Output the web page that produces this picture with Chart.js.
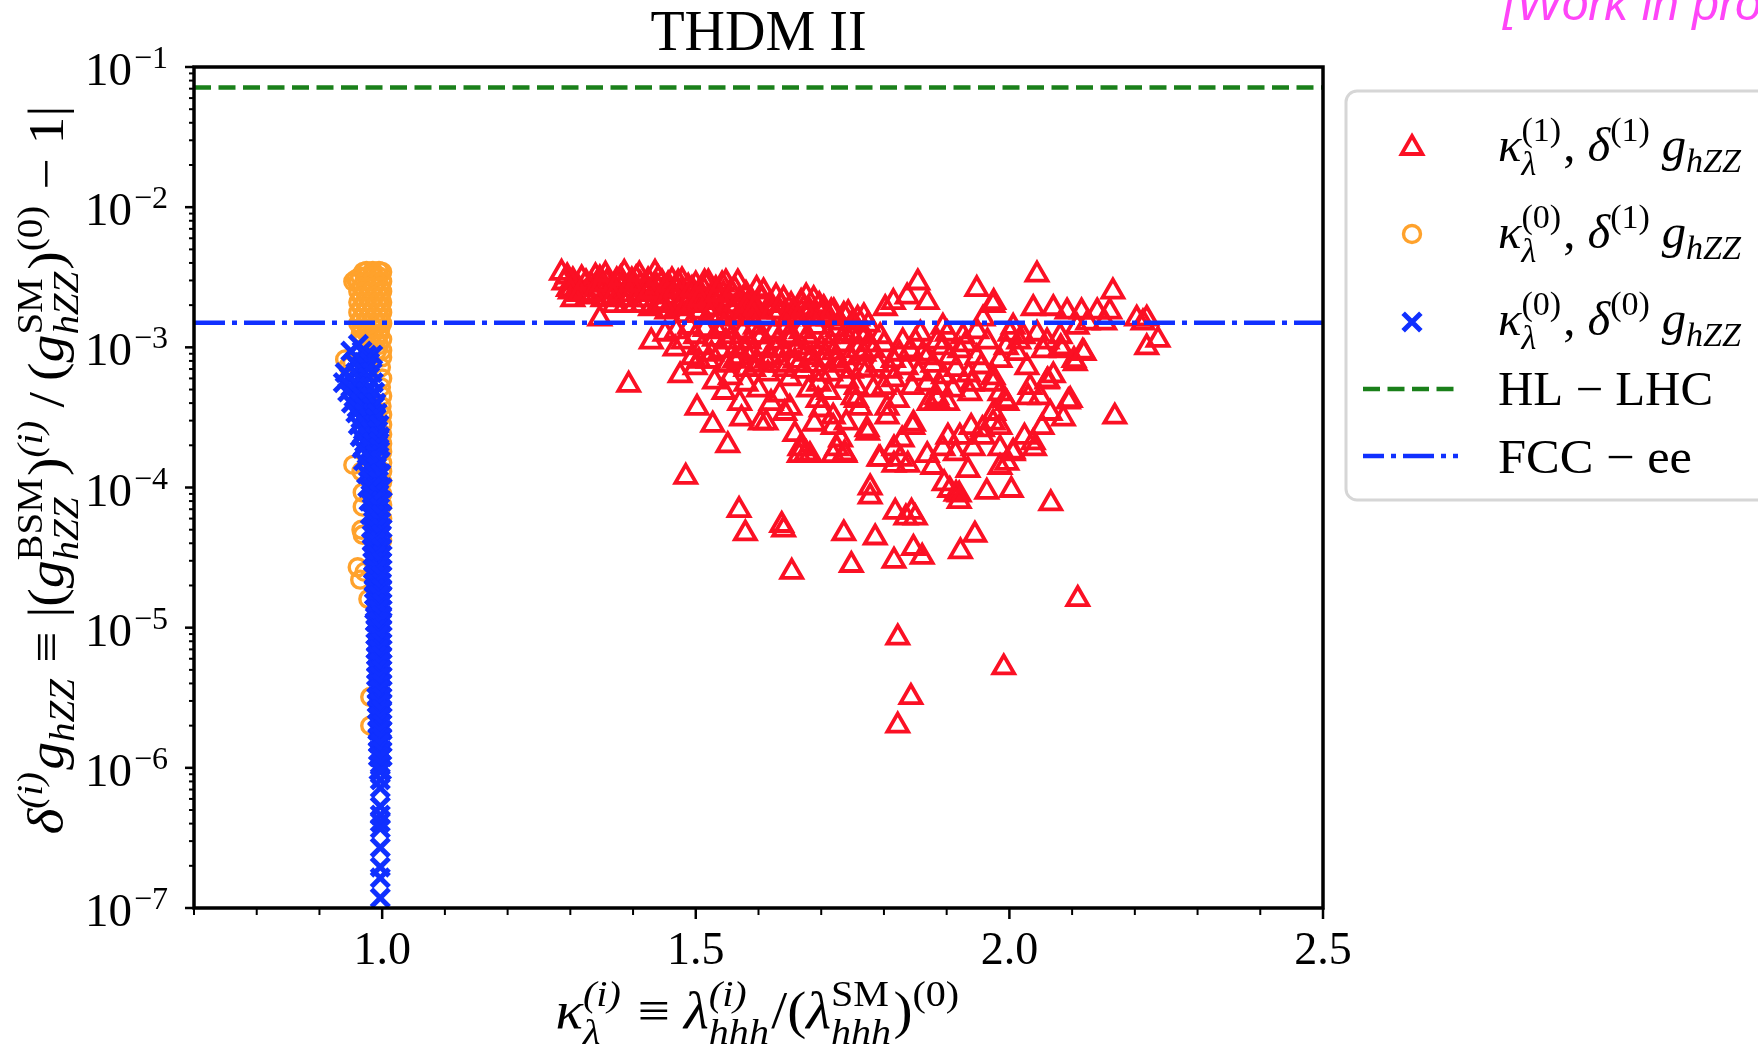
<!DOCTYPE html>
<html>
<head>
<meta charset="utf-8">
<title>THDM II</title>
<script src="https://cdn.jsdelivr.net/npm/chart.js@4.4.0/dist/chart.umd.min.js"></script>
<style>
  html, body { margin: 0; padding: 0; background: #fff; }
  #wrap { width: 1758px; height: 1053px; position: relative; }
</style>
</head>
<body>
<div id="wrap"><canvas id="chart"></canvas></div>
<script>
/* ---------- axis ranges and ticks ---------- */
const X_RANGE = [0.7, 2.5];
const Y_RANGE = [1e-7, 1e-1];
const xMajorTicks = [1.0, 1.5, 2.0, 2.5];
const xTickLabels = ['1.0', '1.5', '2.0', '2.5'];
const xMinorTicks = [0.7, 0.8, 0.9, 1.1, 1.2, 1.3, 1.4, 1.6, 1.7, 1.8, 1.9, 2.1, 2.2, 2.3, 2.4];
const yMajorExp = [-7, -6, -5, -4, -3, -2, -1];
const yMinorMult = [2, 3, 4, 5, 6, 7, 8, 9];

/* ---------- reference lines ---------- */
const HL_LHC = 0.0715;
const FCC_EE = 1.5e-3;

/* ---------- kappa^(1), delta^(1) g_hZZ  (red triangles) ---------- */
const redPoints = [
  // upper band
  [1.286,3.4e-3],[1.290,2.9e-3],[1.297,2.6e-3],[1.304,3.0e-3],[1.304,2.2e-3],[1.312,2.7e-3],[1.318,3.1e-3],
  [1.322,2.4e-3],[1.328,2.3e-3],[1.333,2.8e-3],[1.340,3.2e-3],[1.345,2.6e-3],[1.347,3.1e-3],[1.347,1.6e-3],
  [1.352,2.2e-3],[1.358,2.9e-3],[1.362,2.5e-3],[1.366,2.6e-3],[1.370,2.0e-3],[1.374,3.0e-3],[1.378,2.4e-3],
  [1.382,2.8e-3],[1.386,3.4e-3],[1.390,2.2e-3],[1.394,2.6e-3],[1.398,3.0e-3],[1.402,2.0e-3],[1.405,3.1e-3],
  [1.408,2.4e-3],[1.412,2.8e-3],[1.416,2.2e-3],[1.420,2.6e-3],[1.424,3.0e-3],[1.428,1.9e-3],[1.432,2.4e-3],
  [1.435,3.4e-3],[1.438,2.7e-3],[1.442,2.1e-3],[1.446,2.9e-3],[1.450,2.3e-3],[1.454,1.8e-3],[1.458,2.6e-3],
  [1.462,3.0e-3],[1.466,2.2e-3],[1.470,1.9e-3],[1.472,2.9e-3],[1.476,2.5e-3],[1.480,2.1e-3],[1.484,1.7e-3],
  [1.488,2.7e-3],[1.492,2.3e-3],[1.496,2.0e-3],[1.500,2.8e-3],[1.504,2.4e-3],[1.508,1.8e-3],[1.512,2.6e-3],
  [1.516,2.1e-3],[1.520,2.9e-3],[1.524,2.3e-3],[1.528,1.9e-3],[1.532,2.6e-3],[1.536,2.2e-3],[1.540,1.7e-3],
  [1.544,2.4e-3],[1.548,2.9e-3],[1.552,2.0e-3],[1.556,2.5e-3],[1.560,1.8e-3],[1.567,2.9e-3],[1.570,2.2e-3],
  [1.575,1.9e-3],[1.580,2.4e-3],[1.585,1.7e-3],[1.590,2.1e-3],[1.597,2.6e-3],[1.600,1.8e-3],[1.605,2.2e-3],
  [1.612,1.6e-3],[1.618,2.0e-3],[1.628,2.3e-3],[1.634,1.8e-3],[1.640,2.2e-3],[1.646,1.6e-3],[1.652,2.0e-3],
  [1.660,1.7e-3],[1.668,2.1e-3],[1.676,2.3e-3],[1.682,1.8e-3],[1.690,1.6e-3],[1.697,2.0e-3],[1.704,1.9e-3],
  [1.712,1.6e-3],[1.720,1.8e-3],[1.730,1.5e-3],[1.736,1.7e-3],[1.743,1.75e-3],[1.750,1.5e-3],[1.758,1.6e-3],
  [1.768,1.66e-3],[1.775,1.45e-3],
  [1.295,3.2e-3],[1.300,2.5e-3],[1.315,2.4e-3],[1.325,2.9e-3],[1.336,2.4e-3],[1.350,2.8e-3],[1.356,3.3e-3],
  [1.368,2.3e-3],[1.380,3.1e-3],[1.388,2.0e-3],[1.396,2.8e-3],[1.410,3.3e-3],[1.414,2.0e-3],[1.426,2.5e-3],
  [1.440,3.1e-3],[1.448,2.0e-3],[1.456,2.8e-3],[1.468,2.6e-3],[1.478,3.0e-3],[1.486,2.0e-3],[1.494,2.6e-3],
  [1.506,2.2e-3],[1.514,2.9e-3],[1.522,1.7e-3],[1.534,2.4e-3],[1.542,2.8e-3],[1.550,1.6e-3],[1.562,2.6e-3],
  [1.572,1.6e-3],[1.582,2.0e-3],[1.594,1.9e-3],[1.608,2.5e-3],[1.622,1.8e-3],[1.636,2.0e-3],[1.655,1.8e-3],
  [1.672,1.9e-3],[1.688,2.2e-3],[1.700,1.7e-3],[1.716,1.8e-3],
  // dense block below the FCC line
  [1.429,1.1e-3],[1.451,1.25e-3],[1.467,9.8e-4],[1.469,1.3e-3],[1.475,6.3e-4],[1.480,1.1e-3],[1.490,1.4e-3],
  [1.495,8.5e-4],[1.499,7.2e-4],[1.500,1.2e-3],[1.510,1.0e-3],[1.515,1.35e-3],[1.520,8.0e-4],[1.530,5.7e-4],
  [1.530,1.15e-3],[1.540,9.5e-4],[1.545,1.4e-3],[1.550,7.5e-4],[1.555,6.1e-4],[1.558,1.2e-3],[1.565,1.0e-3],
  [1.570,8.5e-4],[1.575,1.3e-3],[1.580,7.0e-4],[1.585,1.1e-3],[1.590,9.0e-4],[1.595,1.4e-3],[1.600,7.5e-4],
  [1.605,1.2e-3],[1.610,1.0e-3],[1.615,6.5e-4],[1.620,8.5e-4],[1.625,1.3e-3],[1.630,1.1e-3],[1.634,4.6e-4],
  [1.636,7.5e-4],[1.640,9.5e-4],[1.645,1.4e-3],[1.650,6.0e-4],[1.652,1.15e-3],[1.658,8.0e-4],[1.662,1.0e-3],
  [1.668,1.3e-3],[1.672,6.8e-4],[1.676,9.0e-4],[1.682,1.1e-3],[1.688,7.5e-4],[1.692,1.4e-3],[1.696,5.5e-4],
  [1.700,1.0e-3],[1.705,8.2e-4],[1.710,1.2e-3],[1.715,6.5e-4],[1.720,9.2e-4],[1.726,1.35e-3],[1.730,7.5e-4],
  [1.735,1.05e-3],[1.740,5.8e-4],[1.745,8.5e-4],[1.750,1.2e-3],[1.756,5.2e-4],[1.758,9.5e-4],[1.762,1.25e-3],
  [1.765,7.0e-4],[1.773,6.9e-4],[1.775,1.05e-3],
  [1.505,8.0e-4],[1.525,9.0e-4],[1.535,1.3e-3],[1.548,1.1e-3],[1.562,8.0e-4],[1.578,9.5e-4],[1.592,7.0e-4],
  [1.598,1.2e-3],[1.612,8.0e-4],[1.628,9.5e-4],[1.642,7.0e-4],[1.648,1.2e-3],[1.664,7.5e-4],[1.678,1.2e-3],
  [1.685,8.5e-4],[1.698,6.5e-4],[1.712,1.0e-3],[1.724,8.0e-4],[1.738,1.25e-3],[1.748,6.8e-4],[1.768,9.0e-4],
  [1.770,1.2e-3],
  // scattered below the block
  [1.502,3.7e-4],[1.527,2.8e-4],[1.551,2.0e-4],[1.570,4.0e-4],[1.573,3.1e-4],[1.603,2.9e-4],[1.612,2.9e-4],
  [1.642,3.4e-4],[1.650,3.7e-4],[1.658,2.4e-4],[1.666,1.9e-4],[1.676,1.75e-4],[1.689,2.85e-4],[1.695,4.2e-4],
  [1.719,2.7e-4],[1.719,3.2e-4],[1.725,1.9e-4],[1.731,2.2e-4],[1.737,1.75e-4],[1.751,4.4e-4],[1.756,4.2e-4],
  [1.762,3.7e-4],[1.774,2.45e-4],[1.783,5.0e-4],[1.665,1.7e-4],[1.682,1.7e-4],[1.712,4.8e-4],[1.600,5.0e-4],
  [1.620,4.0e-4],[1.580,5.5e-4],[1.545,4.8e-4],[1.680,5.0e-4],[1.700,3.6e-4],[1.740,2.9e-4],
  // isolated left
  [1.393,5.4e-4],[1.484,1.19e-4],[1.569,6.9e-5],[1.579,4.7e-5],[1.637,5.4e-5],[1.640,5.0e-5],[1.653,2.5e-5],
  // right cloud
  [1.854,2.9e-3],[1.948,2.6e-3],[1.837,2.3e-3],[1.869,2.1e-3],[1.815,2.1e-3],[1.802,1.9e-3],[1.974,2.0e-3],
  [2.038,1.9e-3],[2.070,1.9e-3],[2.092,1.8e-3],[2.140,1.8e-3],[2.160,1.8e-3],[2.219,1.6e-3],[2.203,1.6e-3],
  [2.152,1.5e-3],[2.108,1.4e-3],[2.125,1.5e-3],[2.237,1.13e-3],[2.219,1.0e-3],[2.117,9.3e-4],[2.105,7.7e-4],
  [2.084,9.5e-4],[2.070,6.3e-4],[2.060,5.7e-4],[2.094,4.1e-4],[2.086,3.1e-4],[2.065,3.4e-4],[2.052,2.7e-4],
  [2.038,2.1e-4],[2.006,1.8e-4],[2.168,3.2e-4],[2.033,5.2e-4],[2.030,4.4e-4],[1.985,4.7e-4],[1.996,4.0e-4],
  [1.974,5.5e-4],[1.974,2.9e-4],[1.985,2.7e-4],[1.958,2.3e-4],[1.985,1.9e-4],[1.996,1.5e-4],[1.921,2.3e-4],
  [1.942,1.9e-4],[1.894,1.9e-4],[1.869,1.7e-4],[1.846,2.7e-4],[1.826,1.6e-4],[1.794,1.6e-4],[1.773,2.6e-4],
  [1.805,3.2e-4],[1.821,4.2e-4],[1.885,4.2e-4],[1.901,4.0e-4],[1.937,4.7e-4],[1.815,5.9e-4],[1.869,5.5e-4],
  [1.910,5.0e-4],[1.974,6.1e-4],[2.028,7.2e-4],[2.054,9.5e-4],[2.012,9.1e-4],[1.985,8.1e-4],[1.948,8.5e-4],
  [1.921,9.5e-4],[1.894,1.0e-3],[1.869,8.5e-4],[1.842,9.5e-4],[1.815,8.1e-4],[1.783,9.5e-4],[1.926,1.2e-3],
  [1.901,1.25e-3],[1.948,1.3e-3],[2.001,1.25e-3],[2.022,1.2e-3],[2.044,1.25e-3],[2.060,1.1e-3],[1.858,1.25e-3],
  [1.830,1.1e-3],[1.794,1.2e-3],[1.958,1.6e-3],[1.894,1.4e-3],[2.081,1.2e-3],[2.006,1.4e-3],[2.044,3.3e-3],
  [2.165,2.5e-3],[1.975,2.1e-3],[2.082,1.0e-3],[2.103,8.1e-4],[2.119,9.1e-4],[2.097,4.2e-4],[2.049,4.4e-4],
  [2.061,5.8e-4],[2.024,2.3e-4],[1.975,3.4e-4],[1.993,4.2e-4],[1.939,2.7e-4],[1.957,2.6e-4],[1.902,2.3e-4],
  [1.914,1.75e-4],[1.872,4.0e-4],[1.884,4.4e-4],[1.847,2.85e-4],[1.816,1.9e-4],[1.829,2.2e-4],[1.805,3.7e-4],
  [1.790,7.5e-4],[1.800,1.05e-3],[1.810,6.8e-4],[1.825,9.0e-4],[1.835,7.2e-4],[1.850,1.1e-3],[1.855,6.5e-4],
  [1.862,9.0e-4],[1.878,7.5e-4],[1.885,1.1e-3],[1.895,6.2e-4],[1.905,8.5e-4],[1.915,7.0e-4],[1.930,1.05e-3],
  [1.935,6.4e-4],[1.955,7.3e-4],[1.965,1.1e-3],[1.995,1.0e-3],[2.015,1.1e-3],[1.940,5.5e-4],[1.890,5.2e-4],
  [1.845,5.2e-4],[1.800,5.2e-4],[2.115,1.8e-3],[2.213,1.5e-3],
  // lower tail
  [1.736,4.7e-5],[1.748,2.8e-5],[1.786,4.4e-5],[1.816,3.0e-5],[1.847,3.7e-5],[1.861,3.2e-5],[1.844,6.7e-5],
  [1.835,6.1e-5],[1.850,6.1e-5],[1.818,6.7e-5],[1.922,3.5e-5],[1.945,4.6e-5],[1.778,1.0e-4],[1.778,8.6e-5],
  [2.066,7.7e-5],[1.964,9.3e-5],[2.003,9.6e-5],[1.920,8.9e-5],[1.905,9.6e-5],[1.896,1.07e-4],[1.934,1.33e-4],
  [1.985,1.4e-4],[2.109,1.6e-5],[1.822,8.5e-6],[1.991,5.2e-6],[1.843,3.2e-6],[1.822,2.0e-6],[1.816,1.45e-4],
  [1.838,1.45e-4],[1.878,1.4e-4],[1.915,9.0e-5],[1.920,8.0e-5],[2.006,1.75e-4],[2.040,1.9e-4],[1.792,1.6e-4],
  [1.719,1.7e-4],[1.738,1.7e-4]
];

/* ---------- kappa^(0), delta^(1) g_hZZ  (orange circles) ---------- */
const orangePoints = [
  [0.975,3.5e-3],[0.985,3.5e-3],[0.995,3.5e-3],[1.000,3.45e-3],[0.970,3.45e-3],[0.954,2.95e-3],[0.958,3.05e-3],
  [0.965,3.2e-3],[0.975,3.2e-3],[0.985,3.2e-3],[0.995,3.2e-3],
  [0.962,2.95e-3],[0.972,2.95e-3],[0.982,2.95e-3],[0.992,2.95e-3],[1.000,2.95e-3],
  [0.967,2.7e-3],[0.977,2.7e-3],[0.987,2.7e-3],[0.997,2.7e-3],
  [0.962,2.5e-3],[0.972,2.5e-3],[0.982,2.5e-3],[0.992,2.5e-3],[1.000,2.5e-3],
  [0.967,2.3e-3],[0.977,2.3e-3],[0.987,2.3e-3],[0.997,2.3e-3],
  [0.962,2.1e-3],[0.972,2.1e-3],[0.982,2.1e-3],[0.992,2.1e-3],[1.000,2.1e-3],
  [0.967,1.93e-3],[0.977,1.93e-3],[0.987,1.93e-3],[0.997,1.93e-3],
  [0.962,1.77e-3],[0.972,1.77e-3],[0.982,1.77e-3],[0.992,1.77e-3],[1.000,1.77e-3],
  [0.967,1.62e-3],[0.977,1.62e-3],[0.987,1.62e-3],[0.997,1.62e-3],
  [0.962,1.48e-3],[0.972,1.48e-3],[0.982,1.48e-3],[0.992,1.48e-3],[1.000,1.48e-3],
  [0.967,1.36e-3],[0.977,1.36e-3],[0.987,1.36e-3],[0.997,1.36e-3],
  [0.966,1.25e-3],[0.976,1.25e-3],[0.986,1.25e-3],[0.996,1.25e-3],
  [0.970,1.14e-3],[0.980,1.14e-3],[0.990,1.14e-3],[1.000,1.14e-3],
  [0.985,1.04e-3],[0.995,1.04e-3],[0.992,9.5e-4],[1.000,9.5e-4],
  [0.941,8.2e-4],[0.946,7.3e-4],[0.952,7.8e-4],
  [1.000,8.5e-4],[0.998,7.2e-4],[1.000,6.0e-4],[0.998,5.2e-4],[1.000,4.5e-4],[0.999,3.8e-4],[1.000,3.3e-4],
  [1.000,2.8e-4],[1.000,2.4e-4],[1.000,2.05e-4],[1.000,1.8e-4],[1.000,1.5e-4],[1.000,1.3e-4],[1.000,1.1e-4],
  [1.000,9.0e-5],[1.000,7.5e-5],[1.000,6.0e-5],[1.000,4.2e-5],
  [0.954,1.45e-4],[0.967,1.3e-4],[0.969,9.2e-5],[0.969,7.3e-5],[0.967,5.0e-5],[0.969,4.6e-5],
  [0.961,2.7e-5],[0.972,2.5e-5],[0.965,2.2e-5],[0.978,1.6e-5],[0.981,3.2e-6],[0.981,2.0e-6]
];

/* ---------- kappa^(0), delta^(0) g_hZZ  (blue crosses) ---------- */
const bluePoints = [
  [0.962,1.05e-3],[0.950,9.4e-4],[0.968,9.4e-4],[0.975,8.8e-4],[0.985,8.8e-4],
  [0.955,7.8e-4],[0.970,7.8e-4],[0.980,7.8e-4],[0.962,7.2e-4],[0.976,7.2e-4],
  [0.941,6.6e-4],[0.958,6.6e-4],[0.972,6.6e-4],[0.984,6.6e-4],
  [0.948,6.1e-4],[0.964,6.1e-4],[0.978,6.1e-4],
  [0.938,5.6e-4],[0.955,5.6e-4],[0.970,5.6e-4],[0.986,5.6e-4],
  [0.950,5.2e-4],[0.965,5.2e-4],[0.980,5.2e-4],
  [0.945,4.8e-4],[0.960,4.8e-4],[0.975,4.8e-4],[0.988,4.8e-4],
  [0.955,4.4e-4],[0.968,4.4e-4],[0.982,4.4e-4],
  [0.951,4.0e-4],[0.965,4.0e-4],[0.978,4.0e-4],[0.990,4.0e-4],
  [0.960,3.7e-4],[0.972,3.7e-4],[0.985,3.7e-4],
  [0.958,3.4e-4],[0.972,3.4e-4],[0.985,3.4e-4],[0.992,3.4e-4],
  [0.966,3.1e-4],[0.979,3.1e-4],[0.990,3.1e-4],
  [0.962,2.8e-4],[0.975,2.8e-4],[0.988,2.8e-4],[0.995,2.8e-4],
  [0.970,2.55e-4],[0.982,2.55e-4],[0.993,2.55e-4],
  [0.965,2.3e-4],[0.978,2.3e-4],[0.990,2.3e-4],[0.996,2.3e-4],
  [0.972,2.1e-4],[0.985,2.1e-4],[0.995,2.1e-4],
  [0.968,1.9e-4],[0.982,1.9e-4],[0.995,1.9e-4],
  [0.976,1.72e-4],[0.989,1.72e-4],
  [0.970,1.55e-4],[0.985,1.55e-4],[0.997,1.55e-4],
  [0.978,1.4e-4],[0.991,1.4e-4],
  [0.975,1.25e-4],[0.988,1.25e-4],[0.998,1.25e-4],
  [0.982,1.12e-4],[0.994,1.12e-4],
  [0.977,1.0e-4],[0.990,1.0e-4],[1.000,1.0e-4],[0.983,1.0e-4],
  [0.984,9.0e-5],[0.995,9.0e-5],
  [0.979,8.0e-5],[0.991,8.0e-5],[1.000,8.0e-5],[0.985,8.0e-5],
  [0.986,7.2e-5],[0.996,7.2e-5],
  [0.981,6.4e-5],[0.993,6.4e-5],[0.987,6.4e-5],[0.999,6.4e-5],
  [0.988,5.7e-5],[0.998,5.7e-5],
  [0.983,5.1e-5],[0.995,5.1e-5],[1.000,5.1e-5],[0.989,5.1e-5],
  [0.990,4.6e-5],[0.984,4.6e-5],[0.999,4.6e-5],
  [0.984,4.1e-5],[0.996,4.1e-5],[0.989,4.1e-5],
  [0.991,3.7e-5],[0.985,3.7e-5],[0.999,3.7e-5],
  [0.985,3.3e-5],[0.997,3.3e-5],[1.000,3.3e-5],[0.990,3.3e-5],
  [0.992,2.95e-5],[0.986,2.95e-5],[0.9995,2.95e-5],
  [0.986,2.6e-5],[0.998,2.6e-5],[0.991,2.6e-5],
  [0.993,2.35e-5],[0.987,2.35e-5],[0.9995,2.35e-5],
  [0.987,2.1e-5],[0.999,2.1e-5],[0.990,2.1e-5],
  [0.994,1.9e-5],[0.9875,1.9e-5],[0.9995,1.9e-5],
  [0.988,1.7e-5],[1.000,1.7e-5],[0.9945,1.7e-5],
  [0.994,1.5e-5],[0.989,1.5e-5],[0.9995,1.5e-5],
  [0.988,1.35e-5],[0.999,1.35e-5],[0.9945,1.35e-5],
  [0.995,1.22e-5],[0.990,1.22e-5],[0.9995,1.22e-5],
  [0.989,1.1e-5],[1.000,1.1e-5],[0.9945,1.1e-5],
  [0.995,9.8e-6],[0.990,9.8e-6],[0.9995,9.8e-6],
  [0.990,8.8e-6],[0.999,8.8e-6],[0.9945,8.8e-6],
  [0.995,7.8e-6],[0.9905,7.8e-6],[0.9995,7.8e-6],
  [0.990,7.0e-6],[1.000,7.0e-6],[0.9945,7.0e-6],
  [0.995,6.3e-6],[0.991,6.3e-6],[0.9995,6.3e-6],
  [0.991,5.6e-6],[0.999,5.6e-6],[0.9955,5.6e-6],
  [0.995,5.0e-6],[0.991,5.0e-6],[0.9995,5.0e-6],
  [0.991,4.5e-6],[1.000,4.5e-6],[0.9955,4.5e-6],
  [0.996,4.0e-6],[0.9915,4.0e-6],[0.9995,4.0e-6],
  [0.992,3.6e-6],[0.999,3.6e-6],[0.9955,3.6e-6],
  [0.996,3.2e-6],[0.992,3.2e-6],[0.9995,3.2e-6],
  [0.992,2.9e-6],[1.000,2.9e-6],[0.9955,2.9e-6],
  [0.996,2.6e-6],[0.9925,2.6e-6],[0.9995,2.6e-6],
  [0.993,2.3e-6],[0.999,2.3e-6],[0.996,2.3e-6],
  [0.996,2.05e-6],[0.993,2.05e-6],[0.9995,2.05e-6],
  [0.993,1.85e-6],[1.000,1.85e-6],[0.996,1.85e-6],
  [0.996,1.65e-6],[0.9935,1.65e-6],[0.9995,1.65e-6],
  [0.994,1.5e-6],[0.999,1.5e-6],[0.9965,1.5e-6],
  [0.996,1.32e-6],[0.994,1.32e-6],[0.9995,1.32e-6],
  [0.994,1.2e-6],[1.000,1.2e-6],[0.9965,1.2e-6],
  [0.997,1.07e-6],
  [0.995,9.6e-7],[0.999,9.6e-7],
  [0.997,8.2e-7],[0.997,7.2e-7],[0.997,5.3e-7],[0.997,4.6e-7],[0.997,4.1e-7],[0.997,3.7e-7],
  [0.997,2.7e-7],[0.997,1.96e-7],[0.997,1.64e-7],[0.997,1.18e-7]
];

/* ---------- colours / fonts ---------- */
const RED = '#fb1024';
const ORANGE = '#ffa22c';
const BLUE = '#1030ff';
const GREEN = '#1a801a';
const SERIF = '"Liberation Serif", "DejaVu Serif", serif';

/* ---------- small math-text renderer (canvas) ---------- */
function setFont(ctx, size, it){
  ctx.font = (it ? 'italic ' : '') + size + 'px ' + SERIF;
}
function layoutMath(ctx, pieces, S){
  const ss = S * 0.7;
  let w = 0;
  const ops = [];
  pieces.forEach(p => {
    if (p.t !== undefined){
      setFont(ctx, S, p.it);
      ops.push({t: p.t, it: p.it, size: S, x: w, dy: 0});
      w += ctx.measureText(p.t).width;
    } else {
      let pw = 0;
      if (p.sup !== undefined){
        setFont(ctx, ss, p.supIt);
        pw = Math.max(pw, ctx.measureText(p.sup).width);
        ops.push({t: p.sup, it: p.supIt, size: ss, x: w, dy: -S * 0.42});
      }
      if (p.sub !== undefined){
        setFont(ctx, ss, p.subIt);
        pw = Math.max(pw, ctx.measureText(p.sub).width);
        ops.push({t: p.sub, it: p.subIt, size: ss, x: w, dy: S * (p.sup !== undefined ? 0.3 : 0.22)});
      }
      w += pw + S * 0.04;
    }
  });
  return {ops, w};
}
function drawMath(ctx, pieces, x, y, S, width, align){
  const L = layoutMath(ctx, pieces, S);
  const sx = width ? width / L.w : 1;
  const x0 = align === 'center' ? x - L.w * sx / 2 : x;
  ctx.save();
  ctx.translate(x0, y);
  ctx.scale(sx, 1);
  ctx.textAlign = 'left';
  ctx.textBaseline = 'alphabetic';
  ctx.fillStyle = '#000';
  L.ops.forEach(o => { setFont(ctx, o.size, o.it); ctx.fillText(o.t, o.x, o.dy); });
  ctx.restore();
}

/* ---------- labels ---------- */
const TITLE = 'THDM II';
const WATERMARK = '[Work in progress]';
const xLabel = [
  {t:'κ', it:1}, {sup:'(i)', supIt:1, sub:'λ', subIt:1}, {t:' ≡ '},
  {t:'λ', it:1}, {sup:'(i)', supIt:1, sub:'hhh', subIt:1}, {t:'/('},
  {t:'λ', it:1}, {sup:'SM', sub:'hhh', subIt:1}, {t:')'}, {sup:'(0)'}
];
const yLabel = [
  {t:'δ', it:1}, {sup:'(i)', supIt:1}, {t:'g', it:1}, {sub:'hZZ', subIt:1},
  {t:' ≡ |('}, {t:'g', it:1}, {sup:'BSM', sub:'hZZ', subIt:1}, {t:')'}, {sup:'(i)', supIt:1},
  {t:'\u2009/\u2009('}, {t:'g', it:1}, {sup:'SM', sub:'hZZ', subIt:1}, {t:')'}, {sup:'(0)'},
  {t:' − 1|'}
];
const legendRows = [
  {kind:'triangle', color: RED, text: [{t:'κ', it:1}, {sup:'(1)', sub:'λ', subIt:1}, {t:', '}, {t:'δ', it:1}, {sup:'(1)'}, {t:'\u2009'}, {t:'g', it:1}, {sub:'hZZ', subIt:1}], w: 245},
  {kind:'circle', color: ORANGE, text: [{t:'κ', it:1}, {sup:'(0)', sub:'λ', subIt:1}, {t:', '}, {t:'δ', it:1}, {sup:'(1)'}, {t:'\u2009'}, {t:'g', it:1}, {sub:'hZZ', subIt:1}], w: 245},
  {kind:'crossRot', color: BLUE, text: [{t:'κ', it:1}, {sup:'(0)', sub:'λ', subIt:1}, {t:', '}, {t:'δ', it:1}, {sup:'(0)'}, {t:'\u2009'}, {t:'g', it:1}, {sub:'hZZ', subIt:1}], w: 245},
  {kind:'dash', color: GREEN, dash: [17, 7.5], text: [{t:'HL − LHC'}], w: 215},
  {kind:'dash', color: BLUE, dash: [31, 7, 5, 7], offset: 10, text: [{t:'FCC − ee'}], w: 194}
];

/* marker styles shared by plot and legend */
const MARK = {
  triangle: {pointStyle: 'triangle', radius: 12, borderWidth: 3.8, rotation: 0},
  circle: {pointStyle: 'circle', radius: 8.5, borderWidth: 3.4, rotation: 0},
  crossRot: {pointStyle: 'crossRot', radius: 12.5, borderWidth: 5, rotation: 0}
};

/* ---------- frame, ticks, texts, legend ---------- */
const decor = {
  id: 'decor',
  afterDraw(chart){
    const ctx = chart.ctx;
    const xs = chart.scales.x, ys = chart.scales.y;
    const a = chart.chartArea;
    ctx.save();
    ctx.strokeStyle = '#000';
    ctx.fillStyle = '#000';

    // spines
    ctx.lineWidth = 3.5;
    ctx.strokeRect(a.left, a.top, a.right - a.left, a.bottom - a.top);

    // x ticks
    ctx.lineWidth = 2.5;
    xMajorTicks.forEach(v => {
      const px = xs.getPixelForValue(v);
      ctx.beginPath(); ctx.moveTo(px, a.bottom); ctx.lineTo(px, a.bottom + 11); ctx.stroke();
    });
    ctx.lineWidth = 2;
    xMinorTicks.forEach(v => {
      const px = xs.getPixelForValue(v);
      ctx.beginPath(); ctx.moveTo(px, a.bottom); ctx.lineTo(px, a.bottom + 7); ctx.stroke();
    });
    setFont(ctx, 46, false);
    ctx.textAlign = 'center'; ctx.textBaseline = 'alphabetic';
    xMajorTicks.forEach((v, i) => ctx.fillText(xTickLabels[i], xs.getPixelForValue(v), a.bottom + 56));

    // y ticks (log)
    yMajorExp.forEach(e => {
      const py = ys.getPixelForValue(Math.pow(10, e));
      ctx.lineWidth = 2.5;
      ctx.beginPath(); ctx.moveTo(a.left - 9, py); ctx.lineTo(a.left, py); ctx.stroke();
      if (e < -1){
        ctx.lineWidth = 2;
        yMinorMult.forEach(m => {
          const pm = ys.getPixelForValue(m * Math.pow(10, e));
          ctx.beginPath(); ctx.moveTo(a.left - 5, pm); ctx.lineTo(a.left, pm); ctx.stroke();
        });
      }
      ctx.textAlign = 'right';
      setFont(ctx, 32, false);
      const ex = '−' + String(-e);
      ctx.fillText(ex, a.left - 26, py + 1);
      const exW = ctx.measureText(ex).width;
      setFont(ctx, 47, false);
      ctx.fillText('10', a.left - 28 - exW, py + 18);
    });

    // title
    setFont(ctx, 56, false);
    ctx.textAlign = 'center';
    ctx.fillText(TITLE, (a.left + a.right) / 2, 50);

    // axis labels
    drawMath(ctx, xLabel, (a.left + a.right) / 2, 1028, 52, 406, 'center');
    ctx.save();
    ctx.translate(63, 470);
    ctx.rotate(-Math.PI / 2);
    drawMath(ctx, yLabel, 0, 0, 50, 729, 'center');
    ctx.restore();

    // legend box
    const bx = 1346, by = 91, bw = 460, bh = 409, r = 11;
    ctx.beginPath();
    ctx.moveTo(bx + r, by); ctx.lineTo(bx + bw - r, by); ctx.arcTo(bx + bw, by, bx + bw, by + r, r);
    ctx.lineTo(bx + bw, by + bh - r); ctx.arcTo(bx + bw, by + bh, bx + bw - r, by + bh, r);
    ctx.lineTo(bx + r, by + bh); ctx.arcTo(bx, by + bh, bx, by + bh - r, r);
    ctx.lineTo(bx, by + r); ctx.arcTo(bx, by, bx + r, by, r);
    ctx.closePath();
    ctx.fillStyle = 'rgba(255,255,255,0.85)';
    ctx.fill();
    ctx.lineWidth = 3;
    ctx.strokeStyle = '#d6d6d6';
    ctx.stroke();

    const rowMarkY = [148, 234, 322, 389, 456];
    const rowTextY = [161, 248, 335, 405, 473];
    legendRows.forEach((row, i) => {
      const my = rowMarkY[i];
      ctx.save();
      ctx.strokeStyle = row.color;
      ctx.fillStyle = 'rgba(0,0,0,0)';
      if (row.kind === 'dash'){
        ctx.lineWidth = 4.5;
        ctx.setLineDash(row.dash);
        ctx.lineDashOffset = row.offset || 0;
        ctx.beginPath(); ctx.moveTo(1363, my); ctx.lineTo(1458, my); ctx.stroke();
      } else {
        const opts = MARK[row.kind];
        ctx.lineWidth = opts.borderWidth;
        Chart.helpers.drawPoint(ctx, opts, 1412, my);
      }
      ctx.restore();
      drawMath(ctx, row.text, 1498, rowTextY[i], 48, row.w, 'left');
    });

    // watermark, cut at the top edge
    ctx.font = 'italic 48px "Liberation Sans", "DejaVu Sans", sans-serif';
    ctx.fillStyle = '#ff45f8';
    ctx.textAlign = 'left';
    ctx.fillText(WATERMARK, 1503, 20);

    ctx.restore();
  }
};

/* ---------- chart ---------- */
const toXY = pts => pts.map(p => ({x: p[0], y: p[1]}));
const hline = v => [{x: X_RANGE[0], y: v}, {x: X_RANGE[1], y: v}];
const markerOpts = (m, color, fillColor) => ({
  pointStyle: m.pointStyle, pointRadius: m.radius, pointBorderWidth: m.borderWidth,
  pointBorderColor: color, pointBackgroundColor: fillColor,
  borderColor: color, backgroundColor: fillColor, borderWidth: m.borderWidth, showLine: false
});

new Chart(document.getElementById('chart').getContext('2d'), {
  type: 'scatter',
  data: {
    datasets: [
      {label: 'FCC − ee', data: hline(FCC_EE), showLine: true, pointRadius: 0,
       borderColor: BLUE, borderWidth: 4.5, borderDash: [31, 7, 5, 7], fill: false},
      {label: 'HL − LHC', data: hline(HL_LHC), showLine: true, pointRadius: 0,
       borderColor: GREEN, borderWidth: 4.5, borderDash: [17, 7.5], fill: false},
      Object.assign({label: 'k0 d0', data: toXY(bluePoints)}, markerOpts(MARK.crossRot, BLUE, BLUE)),
      Object.assign({label: 'k0 d1', data: toXY(orangePoints)}, markerOpts(MARK.circle, ORANGE, 'rgba(0,0,0,0)')),
      Object.assign({label: 'k1 d1', data: toXY(redPoints)}, markerOpts(MARK.triangle, RED, 'rgba(0,0,0,0)'))
    ]
  },
  options: {
    responsive: true,
    maintainAspectRatio: false,
    animation: false,
    events: [],
    layout: {padding: {left: 194, right: 435, top: 67, bottom: 145}},
    plugins: {legend: {display: false}, tooltip: {enabled: false}, title: {display: false}},
    scales: {
      x: {type: 'linear', min: X_RANGE[0], max: X_RANGE[1], display: false},
      y: {type: 'logarithmic', min: Y_RANGE[0], max: Y_RANGE[1], display: false}
    }
  },
  plugins: [decor]
});
</script>
</body>
</html>
